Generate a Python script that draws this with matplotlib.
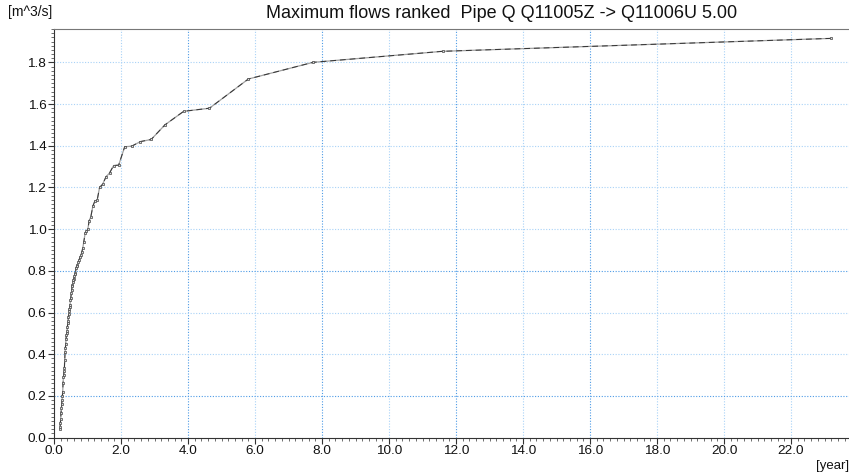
import matplotlib.pyplot as plt
from matplotlib.ticker import MultipleLocator, FormatStrFormatter

plt.rcParams['font.family'] = ['Liberation Sans', 'DejaVu Sans']

# return period [year] and ranked maximum flow [m^3/s]
period = [23.2, 11.6, 7.73, 5.8, 4.64, 3.87, 3.31, 2.9, 2.58, 2.32, 2.11,
          1.93, 1.78, 1.66, 1.55, 1.45, 1.36, 1.29, 1.22, 1.16, 1.10, 1.05,
          1.01, 0.97, 0.93, 0.89, 0.86, 0.83, 0.80, 0.77, 0.75, 0.72, 0.70,
          0.68, 0.66, 0.64, 0.63, 0.61, 0.59, 0.58, 0.57, 0.55, 0.54, 0.53,
          0.52, 0.50, 0.49, 0.48, 0.47, 0.46, 0.45, 0.44, 0.43, 0.42, 0.41,
          0.40, 0.39, 0.38, 0.37, 0.36, 0.35, 0.34, 0.33, 0.32, 0.31, 0.30,
          0.29, 0.28, 0.27, 0.26, 0.25, 0.24, 0.23, 0.22, 0.21, 0.20, 0.19,
          0.18, 0.18]
flow = [1.915, 1.853, 1.80, 1.72, 1.58, 1.565, 1.50, 1.43, 1.42, 1.398, 1.395,
        1.307, 1.305, 1.27, 1.25, 1.215, 1.20, 1.14, 1.135, 1.11, 1.06, 1.04,
        1.0, 0.99, 0.98, 0.94, 0.91, 0.89, 0.875, 0.865, 0.85, 0.84, 0.83,
        0.825, 0.815, 0.79, 0.785, 0.775, 0.76, 0.755, 0.745, 0.73, 0.725, 0.71,
        0.695, 0.67, 0.66, 0.635, 0.625, 0.615, 0.605, 0.595, 0.58, 0.56, 0.55,
        0.53, 0.51, 0.50, 0.49, 0.475, 0.45, 0.43, 0.41, 0.37, 0.335, 0.32,
        0.30, 0.29, 0.26, 0.22, 0.20, 0.18, 0.16, 0.14, 0.12, 0.09, 0.07,
        0.05, 0.04]

title = 'Maximum flows ranked  Pipe Q Q11005Z -> Q11006U 5.00'

fig = plt.figure(figsize=(8.49, 4.74), dpi=100)
ax = fig.add_axes([54 / 849, 1 - 437.6 / 474, 795 / 849, 408.6 / 474])

ax.set_xlim(0, 23.73)
ax.set_ylim(0, 1.96)

ax.xaxis.set_major_locator(MultipleLocator(2))
ax.xaxis.set_minor_locator(MultipleLocator(0.2))
ax.yaxis.set_major_locator(MultipleLocator(0.2))
ax.yaxis.set_minor_locator(MultipleLocator(0.02))
ax.xaxis.set_major_formatter(FormatStrFormatter('%.1f'))
ax.yaxis.set_major_formatter(FormatStrFormatter('%.1f'))
ax.tick_params(which='major', length=4, width=0.8, color='#333333',
               labelsize=9.7, pad=1.5, labelcolor='#111111')
ax.tick_params(which='minor', length=2, width=0.6, color='#555555')

# dotted grid, a few lines drawn darker
light = '#a9d2f7'
dark = '#4d9be6'
for gx in range(2, 24, 2):
    c = dark if gx in (4, 8, 12, 16) else light
    ax.axvline(gx, color=c, lw=0.8, ls=(0, (1, 1.5)), zorder=0)
for gy in [0.2, 0.4, 0.6, 0.8, 1.0, 1.2, 1.4, 1.6, 1.8]:
    c = dark if gy in (0.2, 0.8) else light
    ax.axhline(gy, color=c, lw=0.8, ls=(0, (1, 1.5)), zorder=0)

ax.spines['right'].set_visible(False)
ax.spines['top'].set_color('#777777')
ax.spines['left'].set_color('#333333')
ax.spines['bottom'].set_color('#333333')

ax.plot(period, flow, color='#a0a0a0', lw=0.9, zorder=2)
ax.plot(period, flow, color='#333333', lw=0.7, ls=(0, (6, 4)), zorder=3,
        marker='s', markersize=2.0, mfc='#dddddd', mec='#444444', mew=0.5)

fig.text(502 / 849, 1 - 13 / 474, title, ha='center', va='center',
         fontsize=13, color='#111111')
fig.text(8 / 849, 1 - 12 / 474, '[m^3/s]', ha='left', va='center',
         fontsize=10, color='#111111')
fig.text(849 / 849, 1 - 466 / 474, '[year]', ha='right', va='center',
         fontsize=9.5, color='#111111')

fig.savefig('out.png', dpi=100)
